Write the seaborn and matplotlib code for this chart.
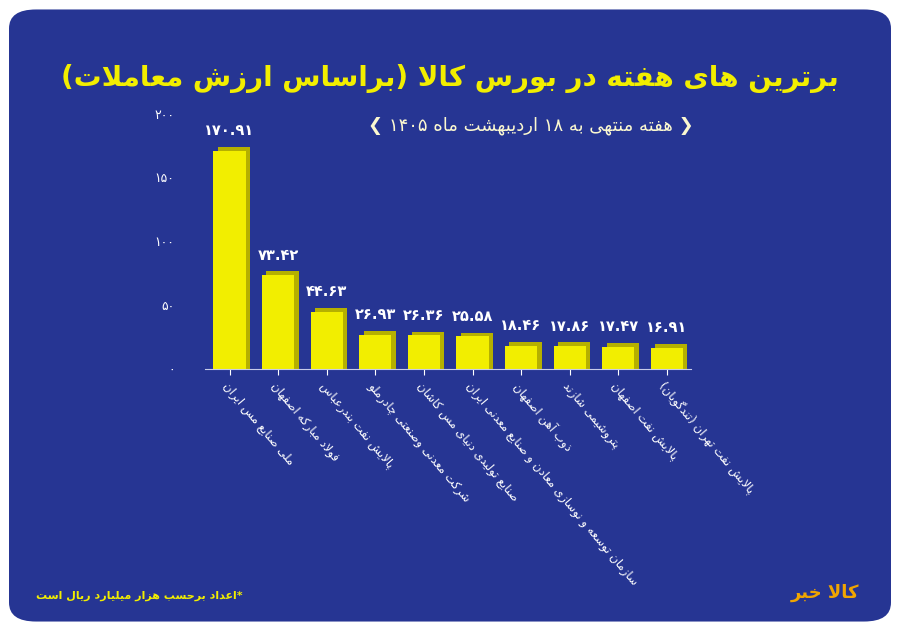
import matplotlib
matplotlib.use('Agg')
import matplotlib.pyplot as plt
import seaborn as sns
import pandas as pd
from matplotlib.patches import FancyBboxPatch

# minimal Persian shaping: (isolated, final, initial, medial); 2-tuple = joins only to the right
FORMS = {
    'ا': (0xFE8D, 0xFE8E), 'آ': (0xFE81, 0xFE82), 'د': (0xFEA9, 0xFEAA), 'ذ': (0xFEAB, 0xFEAC),
    'ر': (0xFEAD, 0xFEAE), 'ز': (0xFEAF, 0xFEB0), 'ژ': (0xFB8A, 0xFB8B), 'و': (0xFEED, 0xFEEE),
    'ب': (0xFE8F, 0xFE90, 0xFE91, 0xFE92), 'پ': (0xFB56, 0xFB57, 0xFB58, 0xFB59),
    'ت': (0xFE95, 0xFE96, 0xFE97, 0xFE98), 'ث': (0xFE99, 0xFE9A, 0xFE9B, 0xFE9C),
    'ج': (0xFE9D, 0xFE9E, 0xFE9F, 0xFEA0), 'چ': (0xFB7A, 0xFB7B, 0xFB7C, 0xFB7D),
    'ح': (0xFEA1, 0xFEA2, 0xFEA3, 0xFEA4), 'خ': (0xFEA5, 0xFEA6, 0xFEA7, 0xFEA8),
    'س': (0xFEB1, 0xFEB2, 0xFEB3, 0xFEB4), 'ش': (0xFEB5, 0xFEB6, 0xFEB7, 0xFEB8),
    'ص': (0xFEB9, 0xFEBA, 0xFEBB, 0xFEBC), 'ض': (0xFEBD, 0xFEBE, 0xFEBF, 0xFEC0),
    'ط': (0xFEC1, 0xFEC2, 0xFEC3, 0xFEC4), 'ظ': (0xFEC5, 0xFEC6, 0xFEC7, 0xFEC8),
    'ع': (0xFEC9, 0xFECA, 0xFECB, 0xFECC), 'غ': (0xFECD, 0xFECE, 0xFECF, 0xFED0),
    'ف': (0xFED1, 0xFED2, 0xFED3, 0xFED4), 'ق': (0xFED5, 0xFED6, 0xFED7, 0xFED8),
    'ک': (0xFB8E, 0xFB8F, 0xFB90, 0xFB91), 'گ': (0xFB92, 0xFB93, 0xFB94, 0xFB95),
    'ل': (0xFEDD, 0xFEDE, 0xFEDF, 0xFEE0), 'م': (0xFEE1, 0xFEE2, 0xFEE3, 0xFEE4),
    'ن': (0xFEE5, 0xFEE6, 0xFEE7, 0xFEE8), 'ه': (0xFEE9, 0xFEEA, 0xFEEB, 0xFEEC),
    'ی': (0xFBFC, 0xFBFD, 0xFBFE, 0xFBFF),
}


def fa(text):
    chars = list(text)
    out = []
    i = 0
    while i < len(chars):
        c = chars[i]
        if c not in FORMS:
            out.append(c)
            i += 1
            continue
        prev = chars[i - 1] if i > 0 else None
        join_prev = prev in FORMS and len(FORMS[prev]) == 4
        if c == 'ل' and i + 1 < len(chars) and chars[i + 1] == 'ا':
            out.append(chr(0xFEFC if join_prev else 0xFEFB))
            i += 2
            continue
        nxt = chars[i + 1] if i + 1 < len(chars) else None
        f = FORMS[c]
        join_next = len(f) == 4 and nxt in FORMS
        if join_prev and join_next:
            out.append(chr(f[3]))
        elif join_prev:
            out.append(chr(f[1]))
        elif join_next:
            out.append(chr(f[2]))
        else:
            out.append(chr(f[0]))
        i += 1
    # visual order: reverse, keep digit runs left-to-right, mirror brackets
    s = ''.join(out)[::-1]
    s = s.translate(str.maketrans('()', ')('))
    res, run = '', ''
    for ch in s:
        if ch in '۰۱۲۳۴۵۶۷۸۹.':
            run += ch
        else:
            res += run[::-1] + ch
            run = ''
    return res + run[::-1]


def fa_num(v):
    return str(v).translate(str.maketrans('0123456789', '۰۱۲۳۴۵۶۷۸۹'))


companies = [
    'ملی صنایع مس ایران',
    'فولاد مبارکه اصفهان',
    'پالایش نفت بندرعباس',
    'شرکت معدنی وصنعتی چادرملو',
    'صنایع تولیدی دنیای مس کاشان',
    'سازمان توسعه و نوسازی معادن و صنایع معدنی ایران',
    'ذوب آهن اصفهان',
    'پتروشیمی شازند',
    'پالایش نفت اصفهان',
    'پالایش نفت تهران (تندگویان)',
]
values = [170.91, 73.42, 44.63, 26.93, 26.36, 25.58, 18.46, 17.86, 17.47, 16.91]
y_ticks = [0, 50, 100, 150, 200]

title = 'برترین های هفته در بورس کالا (براساس ارزش معاملات)'
subtitle = 'هفته منتهی به ۱۸ اردیبهشت ماه ۱۴۰۵'
footnote = '*اعداد برحسب هزار میلیارد ریال است'

bg = '#263593'
yellow = '#f2ee00'
df = pd.DataFrame({'company': companies, 'value': values})

plt.rcParams['font.family'] = ['DejaVu Sans']
fig = plt.figure(figsize=(9, 6.31), dpi=100)
fig.patch.set_facecolor('white')
fig.patches.append(FancyBboxPatch((0.01, 0.015), 0.98, 0.97, boxstyle='round,pad=0,rounding_size=0.03',
                                  transform=fig.transFigure, facecolor=bg, edgecolor='none', zorder=-1))

ax = fig.add_axes([0.228, 0.415, 0.54, 0.405])
ax.set_facecolor('none')
# darker "depth" shadow, then the yellow face
sns.barplot(data=df, x='company', y='value', color='#b5b000', width=0.66, ax=ax, saturation=1)
for p in ax.patches:
    p.set_x(p.get_x() + 0.09)
    p.set_height(p.get_height() + 3)
sns.barplot(data=df, x='company', y='value', color=yellow, width=0.66, ax=ax, saturation=1)

for i, v in enumerate(values):
    ax.text(i, v + 10, fa_num(f'{v:.2f}'), ha='center', va='bottom', color='white',
            fontsize=10.5, fontweight='bold')

ax.set_ylim(0, 200)
ax.set_yticks(y_ticks)
ax.set_yticklabels([fa_num(t) for t in y_ticks], color='white', fontsize=9)
ax.set_xticks(range(len(companies)))
ax.set_xticklabels([fa(c) for c in companies], rotation=-50, ha='left', va='top',
                   rotation_mode='anchor', color='white', fontsize=8.5)
ax.tick_params(axis='y', length=0, pad=22)
ax.tick_params(axis='x', colors='white', length=4)
ax.set_xlabel('')
ax.set_ylabel('')
for side in ['top', 'right', 'left']:
    ax.spines[side].set_visible(False)
ax.spines['bottom'].set_color('#c8cce8')

fig.text(0.5, 0.875, fa(title), ha='center', va='center', color=yellow, fontsize=20, fontweight='bold')
fig.text(0.59, 0.8, '❮ ' + fa(subtitle) + ' ❯', ha='center', va='center', color='#fbf8d0', fontsize=13)
fig.text(0.04, 0.055, fa(footnote), ha='left', va='center', color=yellow, fontsize=8, fontweight='bold')
fig.text(0.955, 0.06, fa('کالا خبر'), ha='right', va='center', color='#f0a500', fontsize=13, fontweight='bold')

fig.savefig('out.png', dpi=100)
